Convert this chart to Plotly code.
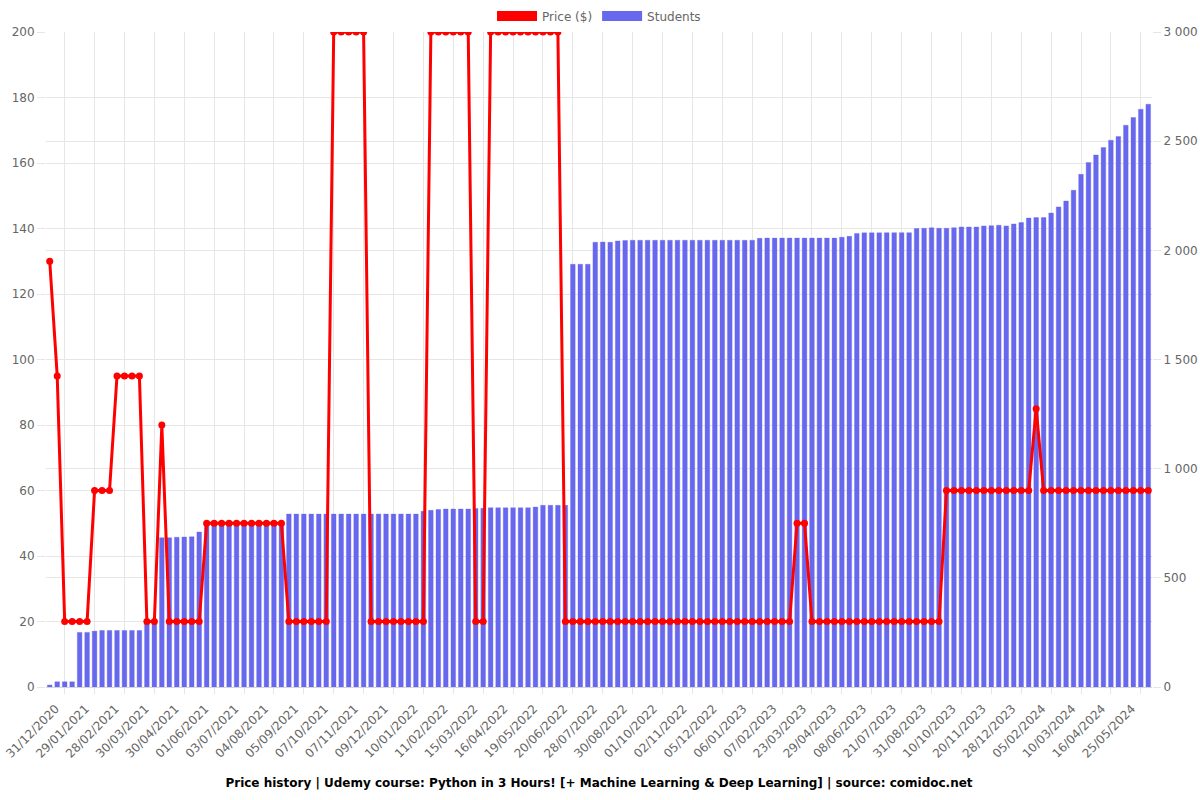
import plotly.graph_objects as go

tick_labels = [
    "31/12/2020", "29/01/2021", "28/02/2021", "30/03/2021", "30/04/2021", "01/06/2021",
    "03/07/2021", "04/08/2021", "05/09/2021", "07/10/2021", "07/11/2021", "09/12/2021",
    "10/01/2022", "11/02/2022", "15/03/2022", "16/04/2022", "19/05/2022", "20/06/2022",
    "28/07/2022", "30/08/2022", "01/10/2022", "02/11/2022", "05/12/2022", "06/01/2023",
    "07/02/2023", "23/03/2023", "29/04/2023", "08/06/2023", "21/07/2023", "31/08/2023",
    "10/10/2023", "20/11/2023", "28/12/2023", "05/02/2024", "10/03/2024", "16/04/2024",
    "25/05/2024",
]

price = [
    130, 95, 20, 20, 20, 20, 60, 60, 60, 95, 95, 95, 95, 20, 20, 80, 20, 20, 20, 20,
    20, 50, 50, 50, 50, 50, 50, 50, 50, 50, 50, 50, 20, 20, 20, 20, 20, 20, 200, 200,
    200, 200, 200, 20, 20, 20, 20, 20, 20, 20, 20, 200, 200, 200, 200, 200, 200, 20, 20, 200,
    200, 200, 200, 200, 200, 200, 200, 200, 200, 20, 20, 20, 20, 20, 20, 20, 20, 20, 20, 20,
    20, 20, 20, 20, 20, 20, 20, 20, 20, 20, 20, 20, 20, 20, 20, 20, 20, 20, 20, 20,
    50, 50, 20, 20, 20, 20, 20, 20, 20, 20, 20, 20, 20, 20, 20, 20, 20, 20, 20, 20,
    60, 60, 60, 60, 60, 60, 60, 60, 60, 60, 60, 60, 85, 60, 60, 60, 60, 60, 60, 60,
    60, 60, 60, 60, 60, 60, 60, 60,
]

students = [
    9, 24, 24, 24, 250, 250, 256, 259, 259, 259, 259, 259, 259, 295, 300, 684, 684, 686, 687, 688,
    710, 752, 752, 752, 752, 752, 752, 752, 752, 752, 752, 752, 792, 792, 792, 792, 792, 792, 792, 792,
    792, 792, 792, 792, 792, 792, 792, 792, 792, 792, 805, 809, 813, 815, 815, 815, 815, 818, 819, 821,
    821, 821, 821, 821, 821, 824, 832, 832, 832, 832, 1936, 1936, 1936, 2037, 2038, 2037, 2043, 2045, 2046, 2046,
    2046, 2046, 2046, 2046, 2046, 2046, 2046, 2046, 2046, 2046, 2046, 2046, 2046, 2046, 2046, 2055, 2056, 2056, 2056, 2056,
    2056, 2056, 2056, 2056, 2056, 2056, 2060, 2064, 2077, 2080, 2080, 2080, 2081, 2081, 2081, 2081, 2100, 2101, 2103, 2101,
    2101, 2104, 2107, 2107, 2107, 2112, 2113, 2115, 2112, 2121, 2127, 2148, 2150, 2150, 2171, 2199, 2226, 2275, 2348, 2402,
    2437, 2471, 2504, 2521, 2573, 2608, 2646, 2669,
]

idx = list(range(len(students)))
label_pos = idx[::4]
grid_pos = idx[2::4]

RED = "#ff0000"
BLUE = "#6868ee"
GRID = "#e6e6e6"
TXT = "#666666"

fig = go.Figure()
fig.add_trace(go.Bar(
    x=idx, y=students, name="Students", yaxis="y",
    marker=dict(color=BLUE, line=dict(color="rgba(104,104,238,0.35)", width=1)),
    width=0.62, showlegend=False, legendgroup="students",
))
fig.add_trace(go.Scatter(
    x=idx, y=price, name="Price ($)", yaxis="y2", mode="lines+markers",
    line=dict(color=RED, width=3), marker=dict(size=7, color=RED),
    showlegend=False, legendgroup="price",
))
# legend entries (box-like swatches)
fig.add_trace(go.Scatter(
    x=[None], y=[None], name="Price ($)", yaxis="y2", mode="lines",
    line=dict(color=RED, width=10), legendgroup="price",
))
fig.add_trace(go.Scatter(
    x=[None], y=[None], name="Students", yaxis="y", mode="lines",
    line=dict(color=BLUE, width=10), legendgroup="students",
))

fig.update_layout(
    width=1200, height=800,
    margin=dict(l=46, r=48, t=32, b=113, autoexpand=False),
    paper_bgcolor="white", plot_bgcolor="white",
    font=dict(family="DejaVu Sans", size=12, color=TXT),
    separators=". ",
    barmode="overlay",
    showlegend=True,
    legend=dict(
        orientation="h", x=0.5, xanchor="center", y=1 + 16 / 655, yanchor="middle",
        font=dict(size=12, color=TXT), itemwidth=40, traceorder="normal",
    ),
    title=dict(
        text="Price history | Udemy course: Python in 3 Hours! [+ Machine Learning & Deep Learning] | source: comidoc.net",
        x=0.5, xanchor="center", xref="paper", y=1 - 783 / 800, yref="container", yanchor="middle",
        font=dict(family="DejaVu Sans", size=12, color="black", weight="bold"),
    ),
    xaxis=dict(
        range=[-0.5, len(idx) - 0.5], tickmode="array", tickvals=label_pos, ticktext=tick_labels,
        tickangle=-45, showgrid=False, ticks="outside", ticklen=9, tickcolor="rgba(0,0,0,0)",
        ticklabelshift=6,
        showline=True, linecolor="#d6d6d6", zeroline=False, ticklabeloverflow="allow",
        tickfont=dict(size=12, color=TXT),
        minor=dict(tickmode="array", tickvals=grid_pos, showgrid=True, gridcolor=GRID,
                   ticks="outside", ticklen=6, tickcolor=GRID),
    ),
    yaxis=dict(
        side="right", range=[0, 3000], tickmode="array",
        tickvals=[0, 500, 1000, 1500, 2000, 2500, 3000], tickformat=",",
        showgrid=True, gridcolor=GRID, zeroline=False, ticks="outside", ticklen=8,
        tickcolor=GRID, tickfont=dict(size=12, color=TXT),
    ),
    yaxis2=dict(
        side="left", overlaying="y", range=[0, 200], tickmode="linear", tick0=0, dtick=20,
        showgrid=True, gridcolor=GRID, zeroline=False, ticks="outside", ticklen=8,
        tickcolor=GRID, tickfont=dict(size=12, color=TXT),
    ),
)

fig.write_html("out.html")
